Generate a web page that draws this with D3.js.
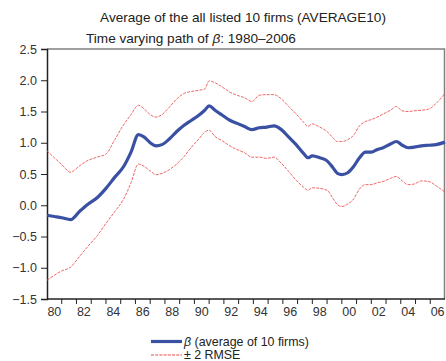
<!DOCTYPE html>
<html>
<head>
<meta charset="utf-8">
<script src="https://cdn.jsdelivr.net/npm/d3@7"></script>
<style>
  body { margin: 0; background: #fff; }
  svg { display: block; font-family: "Liberation Sans", Arial, sans-serif; }
</style>
</head>
<body>
<div id="chart"></div>
<script>
// time points (decimal years)
const dates = [
  1980.0, 1980.5, 1981.0, 1981.6, 1982.2, 1982.8, 1983.4, 1984.0, 1984.6, 1985.2,
  1985.7, 1986.2, 1986.6, 1987.0, 1987.4, 1987.8, 1988.3, 1988.8, 1989.3, 1989.8,
  1990.3, 1990.7, 1991.0, 1991.4, 1991.9, 1992.4, 1992.9, 1993.4, 1993.9, 1994.4,
  1994.9, 1995.4, 1995.9, 1996.4, 1996.9, 1997.4, 1997.7, 1998.0, 1998.5, 1999.0,
  1999.4, 1999.7, 2000.0, 2000.4, 2000.8, 2001.2, 2001.6, 2002.0, 2002.4, 2002.8,
  2003.3, 2003.7, 2004.1, 2004.5, 2004.9, 2005.4, 2005.9, 2006.4, 2007.0
];

// beta (average of 10 firms)
const beta = [
  -0.16, -0.18, -0.20, -0.23, -0.10, 0.02, 0.12, 0.27, 0.45, 0.62,
  0.85, 1.13, 1.09, 1.00, 0.95, 0.97, 1.06, 1.18, 1.28, 1.36,
  1.44, 1.52, 1.59, 1.52, 1.44, 1.36, 1.31, 1.26, 1.21, 1.24,
  1.25, 1.27, 1.21, 1.09, 0.97, 0.83, 0.76, 0.79, 0.76, 0.71,
  0.60, 0.51, 0.49, 0.52, 0.62, 0.76, 0.85, 0.85, 0.89, 0.92,
  0.98, 1.02, 0.96, 0.92, 0.93, 0.95, 0.96, 0.97, 1.01
];

// beta + 2 RMSE
const upper = [
  0.87, 0.76, 0.65, 0.53, 0.63, 0.72, 0.77, 0.82, 1.05, 1.29,
  1.45, 1.60, 1.54, 1.45, 1.41, 1.45, 1.57, 1.70, 1.79, 1.82,
  1.84, 1.86, 1.99, 1.96, 1.89, 1.81, 1.76, 1.72, 1.66, 1.76,
  1.77, 1.77, 1.70, 1.58, 1.46, 1.33, 1.26, 1.30, 1.25, 1.18,
  1.08, 1.02, 1.02, 1.05, 1.12, 1.27, 1.34, 1.37, 1.41, 1.46,
  1.52, 1.58, 1.51, 1.50, 1.51, 1.52, 1.54, 1.63, 1.79
];

// beta - 2 RMSE
const lower = [
  -1.20, -1.12, -1.05, -0.99, -0.82, -0.65, -0.49, -0.29, -0.10, 0.10,
  0.36, 0.66, 0.62, 0.55, 0.49, 0.51, 0.57, 0.66, 0.78, 0.93,
  1.06, 1.17, 1.20, 1.10, 1.03, 0.95, 0.89, 0.84, 0.77, 0.77,
  0.75, 0.77, 0.67, 0.54, 0.40, 0.29, 0.24, 0.28, 0.27, 0.24,
  0.11, 0.01, -0.02, 0.02, 0.10, 0.26, 0.33, 0.33, 0.36, 0.38,
  0.43, 0.46, 0.39, 0.33, 0.34, 0.39, 0.38, 0.31, 0.21
];

const yTicks = [-1.5, -1.0, -0.5, 0.0, 0.5, 1.0, 1.5, 2.0, 2.5];
const yearLabels = ['80', '82', '84', '86', '88', '90', '92', '94', '96', '98', '00', '02', '04', '06'];

const width = 446;
const height = 361;
const margin = { top: 49, right: 1, bottom: 62, left: 47 };

const blue = '#3a51a3';
const red = '#ec4b4b';

const svg = d3.select('#chart').append('svg')
  .attr('width', width)
  .attr('height', height);

const x = d3.scaleLinear()
  .domain([1980, 2007])
  .range([margin.left, width - margin.right]);

const y = d3.scaleLinear()
  .domain([-1.5, 2.5])
  .range([height - margin.bottom, margin.top]);

// titles
svg.append('text')
  .attr('x', 243)
  .attr('y', 22)
  .attr('text-anchor', 'middle')
  .style('font-size', '13.6px')
  .style('fill', '#222')
  .text('Average of the all listed 10 firms (AVERAGE10)');

const sub = svg.append('text')
  .attr('x', 86)
  .attr('y', 43)
  .style('font-size', '13.6px')
  .style('fill', '#222');
sub.append('tspan').text('Time varying path of ');
sub.append('tspan').style('font-style', 'italic').text('β');
sub.append('tspan').text(': 1980–2006');

// frame: grey top / right
svg.append('path')
  .attr('d', 'M' + x(1980) + ',' + y(2.5) + 'H' + (x(2007) - 0.5) + 'V' + y(-1.5))
  .attr('fill', 'none')
  .attr('stroke', '#808080')
  .attr('stroke-width', 1.5);

// y axis
const yAxis = svg.append('g')
  .attr('transform', 'translate(' + x(1980) + ',0)')
  .call(d3.axisLeft(y).tickValues(yTicks).tickFormat(d3.format('.1f')).tickSize(6).tickPadding(4));
yAxis.select('.domain').attr('stroke', '#222').attr('stroke-width', 1.5);
yAxis.selectAll('.tick line').attr('stroke', '#222').attr('stroke-width', 1);
yAxis.selectAll('.tick text')
  .style('font-size', '12.5px')
  .style('font-family', '"Liberation Sans", Arial, sans-serif')
  .style('fill', '#333');

// x axis: ticks at year boundaries, labels at mid-year
const xAxis = svg.append('g')
  .attr('transform', 'translate(0,' + y(-1.5) + ')');
xAxis.append('line')
  .attr('x1', x(1980))
  .attr('x2', x(2007))
  .attr('stroke', '#222')
  .attr('stroke-width', 1.5);
xAxis.selectAll('.yt')
  .data(d3.range(1981, 2007))
  .enter()
  .append('line')
  .attr('x1', (d) => x(d))
  .attr('x2', (d) => x(d))
  .attr('y1', 0)
  .attr('y2', 5)
  .attr('stroke', '#222')
  .attr('stroke-width', 1);
xAxis.selectAll('.yl')
  .data(yearLabels)
  .enter()
  .append('text')
  .attr('x', (d, i) => x(1980 + 2 * i + 0.5))
  .attr('y', 17)
  .attr('text-anchor', 'middle')
  .style('font-size', '12.5px')
  .style('fill', '#333')
  .text((d) => d);

// series
const line = (vals) => d3.line()
  .x((d, i) => x(dates[i]))
  .y((d) => y(d))
  .curve(d3.curveMonotoneX)(vals);

[upper, lower].forEach(function (s) {
  svg.append('path')
    .attr('d', line(s))
    .attr('fill', 'none')
    .attr('stroke', red)
    .attr('stroke-width', 1)
    .attr('stroke-dasharray', '3,1.2')
    .attr('opacity', 0.85);
});

svg.append('path')
  .attr('d', line(beta))
  .attr('fill', 'none')
  .attr('stroke', blue)
  .attr('stroke-width', 3.2)
  .attr('stroke-linejoin', 'round');

// legend
const legendData = [
  { label: 'β', rest: ' (average of 10 firms)', color: blue, w: 3.2, dash: null, y: 341.5 },
  { label: '± 2 RMSE', rest: '', color: red, w: 1, dash: '3,1.2', y: 355 }
];
const place = svg.selectAll('.legend')
  .data(legendData)
  .enter()
  .append('g');
place.append('line')
  .attr('x1', 151)
  .attr('x2', 182)
  .attr('y1', (d) => d.y)
  .attr('y2', (d) => d.y)
  .attr('stroke', (d) => d.color)
  .attr('stroke-width', (d) => d.w)
  .attr('stroke-dasharray', (d) => d.dash);
const lt = place.append('text')
  .attr('x', 184)
  .attr('y', (d) => d.y + 4.3)
  .style('font-size', '12.4px')
  .style('fill', '#222');
lt.append('tspan')
  .style('font-style', (d, i) => i === 0 ? 'italic' : 'normal')
  .text((d) => d.label);
lt.append('tspan').text((d) => d.rest);
</script>
</body>
</html>
